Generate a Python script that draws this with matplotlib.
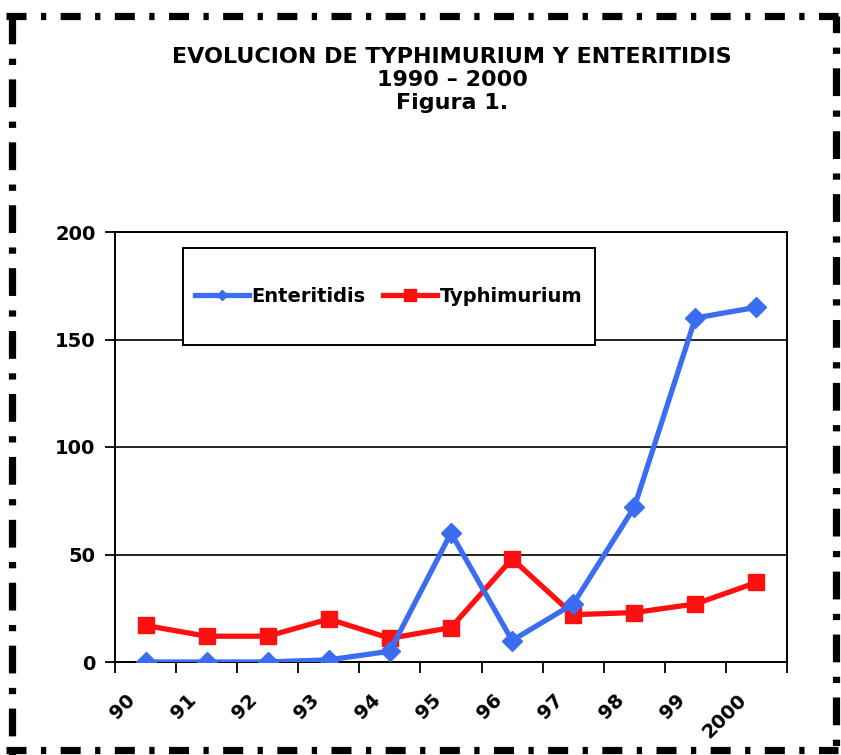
import matplotlib
matplotlib.use("Agg")
import matplotlib.pyplot as plt
from matplotlib.lines import Line2D
from matplotlib.patches import Rectangle
import matplotlib.transforms as mtransforms

plt.rcParams['lines.scale_dashes'] = False

years = ["90", "91", "92", "93", "94", "95", "96", "97", "98", "99", "2000"]
enteritidis = [0, 0, 0, 1, 5, 60, 10, 27, 72, 160, 165]
typhimurium = [17, 12, 12, 20, 11, 16, 48, 22, 23, 27, 37]
yticks = [0, 50, 100, 150, 200]

title_lines = ["EVOLUCION DE TYPHIMURIUM Y ENTERITIDIS", "1990 \u2013 2000", "Figura 1."]

W, H = 841, 755
fig = plt.figure(figsize=(W / 100, H / 100), dpi=100)
fig.patch.set_facecolor("white")

ax = fig.add_axes([115 / W, (H - 662) / H, 672 / W, 430 / H])

x = list(range(len(years)))
blue = "#3a6df0"
red = "#ff1010"
ax.plot(x, enteritidis, color=blue, lw=3.8, marker="D", ms=10.5, mec=blue, mfc=blue,
        label="Enteritidis", zorder=4, solid_joinstyle="round")
ax.plot(x, typhimurium, color=red, lw=3.8, marker="s", ms=11, mec=red, mfc=red,
        label="Typhimurium", zorder=3, solid_joinstyle="round")

ax.set_xlim(-0.5, len(years) - 0.5)
ax.set_ylim(0, 200)
ax.set_yticks(yticks)
ax.yaxis.grid(True, color="black", lw=1.2)
ax.set_axisbelow(True)
for s in ax.spines.values():
    s.set_linewidth(1.4)
    s.set_color("black")

vfont = {"family": "DejaVu Sans", "weight": "bold", "size": 14}
ax.set_yticklabels([str(v) for v in yticks], fontdict=vfont)
ax.tick_params(axis="y", direction="out", length=7, width=1.3, pad=7)

# category labels at centers, boundary ticks as minor ticks
ax.set_xticks(x)
ax.set_xticklabels(years, fontdict=vfont, rotation=45, ha="right", va="center",
                   rotation_mode="anchor")
ax.set_xticks([i - 0.5 for i in range(len(years) + 1)], minor=True)
ax.tick_params(axis="x", which="major", length=0, pad=25)
ax.tick_params(axis="x", which="minor", direction="out", length=8, width=1.3)
offset = mtransforms.ScaledTranslation(-13 / 100, 0, fig.dpi_scale_trans)
for lab in ax.get_xticklabels():
    lab.set_transform(lab.get_transform() + offset)

# legend
rect = Rectangle((0.101, 0.737), 0.613, 0.226, transform=ax.transAxes,
                 facecolor="white", edgecolor="black", lw=1.4, zorder=5)
ax.add_patch(rect)
handles = [Line2D([], [], color=blue, lw=3.8, marker="D", ms=5, mfc=blue, mec=blue),
           Line2D([], [], color=red, lw=3.8, marker="s", ms=8, mfc=red, mec=red)]
leg = ax.legend(handles, ["Enteritidis", "Typhimurium"], loc="center",
                bbox_to_anchor=(0.101 + 0.613 / 2, 0.737 + 0.226 / 2),
                bbox_transform=ax.transAxes, ncol=2, frameon=False,
                prop={"family": "DejaVu Sans", "weight": "bold", "size": 14},
                handlelength=2.75, handletextpad=0.15, columnspacing=0.9)
leg.set_zorder(6)

# titles
tfont = dict(family="DejaVu Sans", weight="bold", fontsize=16, ha="center", va="center")
for i, t in enumerate(title_lines):
    fig.text(452 / W, 1 - (57 + i * 23) / H, t, **tfont)

# dashed border
lw = 5.2
pat_h = (0, (14.4, 10.4, 3.8, 10.4))
pat_v = (0, (20.0, 10.4, 4.5, 10.4))
fig.add_artist(Line2D([6 / W, 1 - 3 / W], [1 - 16 / H, 1 - 16 / H], color="black", lw=lw,
                      linestyle=pat_h, transform=fig.transFigure))
fig.add_artist(Line2D([6 / W, 1 - 3 / W], [5 / H, 5 / H], color="black", lw=lw,
                      linestyle=pat_h, transform=fig.transFigure))
fig.add_artist(Line2D([12 / W, 12 / W], [1 - 16 / H, 0], color="black", lw=lw,
                      linestyle=pat_v, transform=fig.transFigure))
fig.add_artist(Line2D([1 - 5 / W, 1 - 5 / W], [1 - 16 / H, 0], color="black", lw=lw,
                      linestyle=(8, (20.0, 10.4, 4.5, 10.4)), transform=fig.transFigure))

fig.savefig("out.png", dpi=100)
